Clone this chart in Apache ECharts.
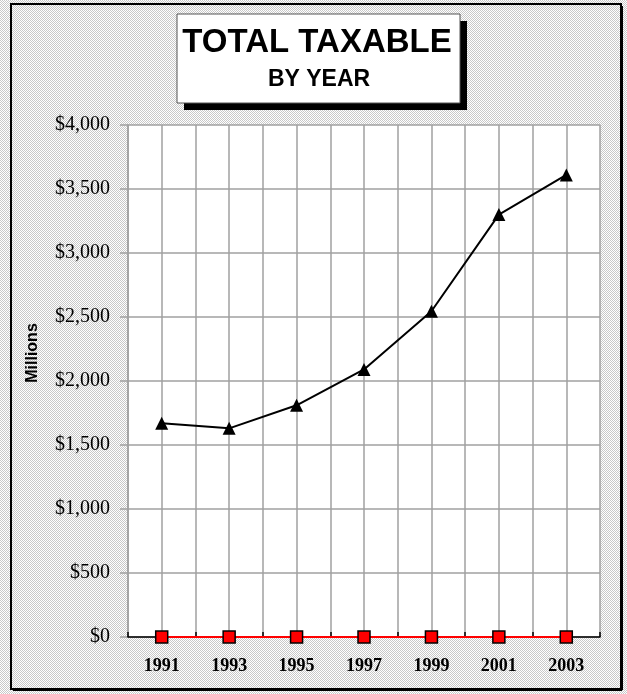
<!DOCTYPE html>
<html><head><meta charset="utf-8">
<script src="https://cdn.jsdelivr.net/npm/echarts@6/dist/echarts.min.js"></script>
<style>html,body{margin:0;padding:0;background:#fff}#c{width:627px;height:694px}</style>
</head><body><div id="c"></div>
<script>
var years = ['1991','1993','1995','1997','1999','2001','2003'];
var taxable = [1670, 1630, 1810, 2090, 2545, 3300, 3610];
var zeroLine = [0, 0, 0, 0, 0, 0, 0];
var titleMain = 'TOTAL TAXABLE';
var titleSub = 'BY YEAR';
var yName = 'Millions';

var pc = document.createElement('canvas');
pc.width = 2; pc.height = 2;
var pctx = pc.getContext('2d');
pctx.fillStyle = '#ffffff'; pctx.fillRect(0,0,2,2);
pctx.fillStyle = '#c8c8c8'; pctx.fillRect(0,0,1,1); pctx.fillRect(1,1,1,1);

var chart = echarts.init(document.getElementById('c'), null, {renderer:'canvas'});
var grayGrid = '#a0a0a0';
chart.setOption({
  animation: false,
  backgroundColor: '#ffffff',
  grid: {left:128, top:125, right:27, bottom:57, show:true, backgroundColor:'#ffffff', borderWidth:0},
  graphic: [
    {type:'rect', z:-10, silent:true, shape:{x:0,y:0,width:627,height:694}, style:{fill:{image:pc, repeat:'repeat'}}},
    {type:'rect', z:-9, silent:true, shape:{x:11,y:4,width:610,height:685}, style:{fill:'transparent', stroke:'#000', lineWidth:2}},
    {type:'line', z:-9, silent:true, shape:{x1:622,y1:6,x2:622,y2:690}, style:{stroke:'#000', lineWidth:2}},
    {type:'line', z:-9, silent:true, shape:{x1:13,y1:690,x2:622,y2:690}, style:{stroke:'#000', lineWidth:2}},
    {type:'rect', z:10, silent:true, shape:{x:184,y:21,width:283,height:89}, style:{fill:'#000'}},
    {type:'rect', z:11, silent:true, shape:{x:177,y:14,width:283,height:89}, style:{fill:'#fff', stroke:'#555', lineWidth:1}},
    {type:'text', z:12, silent:true, style:{text:titleMain, x:317, y:43, align:'center', verticalAlign:'middle', font:'bold 33px "Liberation Sans", Arial, sans-serif', fill:'#000'}},
    {type:'text', z:12, silent:true, style:{text:titleSub, x:319, y:80, align:'center', verticalAlign:'middle', font:'bold 23px "Liberation Sans", Arial, sans-serif', fill:'#000'}},
    {type:'text', z:12, silent:true, x:33, y:353, rotation:Math.PI/2, style:{text:yName, x:0, y:0, align:'center', verticalAlign:'middle', font:'bold 16px "Liberation Sans", Arial, sans-serif', fill:'#000'}}
  ],
  xAxis: [
    {type:'category', data:years, boundaryGap:true, position:'bottom',
     axisLine:{show:true, lineStyle:{color:'#000', width:1.5}},
     axisTick:{show:true, inside:true, length:5, lineStyle:{color:'#000', width:1.5}},
     axisLabel:{margin:20, color:'#000', fontFamily:'"Liberation Serif", "Times New Roman", serif', fontWeight:'bold', fontSize:18},
     splitLine:{show:false}, z:1},
    {type:'value', min:0, max:14, interval:1, position:'bottom',
     axisLine:{show:false}, axisTick:{show:false}, axisLabel:{show:false},
     splitLine:{show:true, lineStyle:{color:grayGrid, width:1.5}}}
  ],
  yAxis: {type:'value', min:0, max:4000, interval:500,
    axisLine:{show:true, lineStyle:{color:grayGrid, width:1.5}},
    axisTick:{show:true, length:8, lineStyle:{color:grayGrid, width:1.5}},
    axisLabel:{margin:18, color:'#000', fontFamily:'"Liberation Serif", "Times New Roman", serif', fontSize:20,
      formatter:function(v){return '$' + v.toString().replace(/\B(?=(\d{3})+(?!\d))/g, ',');}},
    splitLine:{show:true, lineStyle:{color:grayGrid, width:1.5}}},
  series: [
    {type:'line', xAxisIndex:0, data:taxable, symbol:'triangle', symbolSize:13,
     itemStyle:{color:'#000'}, lineStyle:{color:'#000', width:2}, z:5},
    {type:'line', xAxisIndex:0, data:zeroLine, symbol:'rect', symbolSize:12,
     itemStyle:{color:'#ff0000', borderColor:'#000', borderWidth:1.5}, lineStyle:{color:'#ff0000', width:2}, z:5}
  ]
});
</script></body></html>
